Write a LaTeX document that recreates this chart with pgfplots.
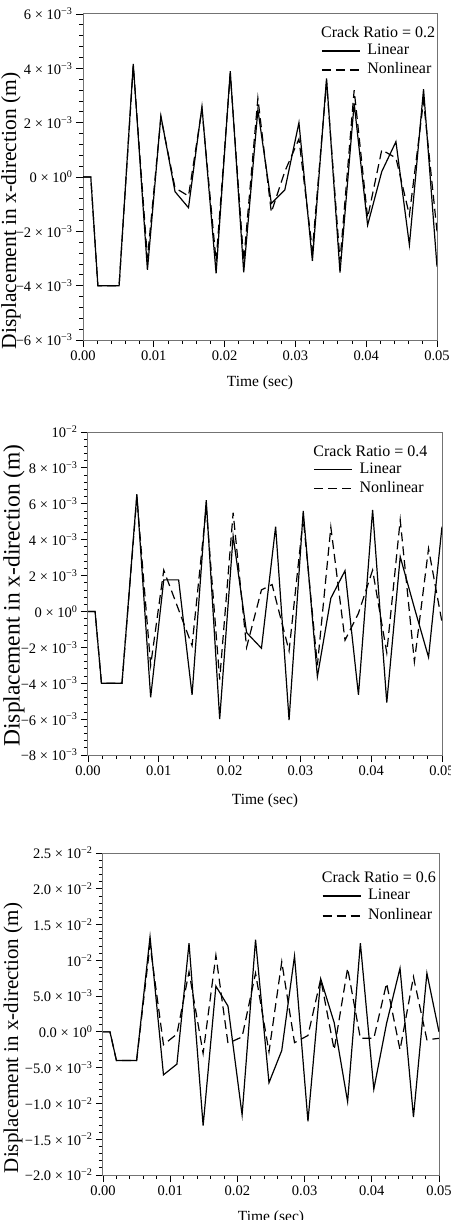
\documentclass[border=0pt]{standalone}
\usepackage{fontspec}
\setmainfont{Liberation Serif}
\usepackage{pgfplots}
\pgfplotsset{compat=1.18}
\newcommand{\tf}{\fontsize{14.5}{16}\selectfont}
\newcommand{\lf}{\fontsize{16}{18}\selectfont}
\newcommand{\m}{−}
\pgfplotsset{
  panel/.style={
    scale only axis, anchor=north west,
    xmin=0, xmax=0.05,
    scaled x ticks=false, scaled y ticks=false,
    axis line style={black!55, line width=1pt},
    tick style={black, line width=0.8pt},
    major tick length=7pt, minor tick length=4pt,
    tick align=outside, xtick pos=bottom, ytick pos=left,
    minor tick num=4,
    xtick={0,0.01,0.02,0.03,0.04,0.05},
    xticklabels={0.00,0.01,0.02,0.03,0.04,0.05},
    ticklabel style={font=\tf},
    xlabel={Time (sec)},
    ylabel={Displacement in x-direction (m)},
    xlabel style={font=\fontsize{15.5}{17}\selectfont, at={(axis description cs:0.5,0)}, anchor=center},
    ylabel style={at={(axis description cs:0,0.5)}, anchor=center},
    legend cell align=left,
    legend image code/.code={\draw[#1] (0pt,0pt) -- (38pt,0pt);},
    legend style={draw=none, fill=none, anchor=north west, font=\lf,
      inner sep=0pt, column sep=7pt, row sep=4.5pt,
      nodes={inner sep=0pt, text height=11pt, text depth=3.5pt}},
  },
  lin/.style={black, line width=1.2pt},
  nl/.style={black, line width=1.2pt, dash pattern=on 9pt off 5pt},
}
\begin{document}
\begin{tikzpicture}
% ---------------- Panel 1 ----------------
\begin{axis}[panel, at={(83pt,-14pt)}, width=354pt, height=326pt,
  ymin=-0.006, ymax=0.006,
  ytick={-0.006,-0.004,-0.002,0,0.002,0.004,0.006},
  yticklabels={\m6 × 10\textsuperscript{\m3},\m4 × 10\textsuperscript{\m3},\m2 × 10\textsuperscript{\m3},0 × 10\textsuperscript{0},2 × 10\textsuperscript{\m3},4 × 10\textsuperscript{\m3},6 × 10\textsuperscript{\m3}},
  xlabel style={yshift=-43pt},
  ylabel style={font=\fontsize{21.5}{23}\selectfont, yshift=72pt, xshift=-34pt},
  legend style={at={(rel axis cs:0.6723,0.9095)}},
]
\addplot[lin] coordinates {(0,0) (0.0011,0) (0.0021,-0.0040) (0.0051,-0.0040) (0.0071,0.00416) (0.0091,-0.00342) (0.0110,0.00225) (0.0130,-0.00054) (0.0149,-0.00113) (0.0168,0.00259) (0.0188,-0.00355) (0.0208,0.0039) (0.0227,-0.00351) (0.0247,0.00247) (0.0266,-0.00097) (0.0285,-0.00048) (0.0305,0.0020) (0.0324,-0.00309) (0.0344,0.00363) (0.0363,-0.00352) (0.0383,0.00271) (0.0402,-0.00177) (0.0422,0.0002) (0.0442,0.0013) (0.0461,-0.0025) (0.0481,0.00323) (0.0500,-0.0033)};
\addlegendentry{Linear}
\addplot[nl] coordinates {(0,0) (0.0011,0) (0.0021,-0.0040) (0.0051,-0.0040) (0.0071,0.0041) (0.0091,-0.0030) (0.0110,0.0022) (0.0130,-0.0004) (0.0149,-0.0007) (0.0168,0.0025) (0.0188,-0.0031) (0.0208,0.0038) (0.0227,-0.0031) (0.0247,0.0029) (0.0266,-0.0013) (0.0285,0.0002) (0.0305,0.0014) (0.0324,-0.0027) (0.0344,0.0035) (0.0363,-0.0031) (0.0383,0.0032) (0.0402,-0.0015) (0.0422,0.0010) (0.0442,0.0007) (0.0461,-0.0014) (0.0481,0.0028) (0.0500,-0.0020)};
\addlegendentry{Nonlinear}
\node[anchor=west, inner sep=0pt, font=\lf] at (rel axis cs:0.6723,0.9457) {Crack Ratio = 0.2};
\end{axis}
% ---------------- Panel 2 ----------------
\begin{axis}[panel, at={(88pt,-432pt)}, width=354pt, height=323pt,
  ymin=-0.008, ymax=0.010,
  ytick={-0.008,-0.006,-0.004,-0.002,0,0.002,0.004,0.006,0.008,0.010},
  yticklabels={\m8 × 10\textsuperscript{\m3},\m6 × 10\textsuperscript{\m3},\m4 × 10\textsuperscript{\m3},\m2 × 10\textsuperscript{\m3},0 × 10\textsuperscript{0},2 × 10\textsuperscript{\m3},4 × 10\textsuperscript{\m3},6 × 10\textsuperscript{\m3},8 × 10\textsuperscript{\m3},10\textsuperscript{\m2}},
  xlabel style={yshift=-46pt},
  ylabel style={font=\fontsize{23.5}{25}\selectfont, yshift=74pt, xshift=-2pt},
  legend style={at={(rel axis cs:0.6364,0.9071)}},
]
\addplot[lin] coordinates {(0,0) (0.0010,0) (0.0019,-0.0040) (0.0048,-0.0040) (0.0069,0.00653) (0.00885,-0.00478) (0.0107,0.00176) (0.0128,0.00176) (0.0147,-0.00465) (0.0167,0.0062) (0.0186,-0.0060) (0.0205,0.0042) (0.0224,-0.00118) (0.0245,-0.00205) (0.0265,0.00473) (0.0284,-0.00605) (0.0304,0.0056) (0.0324,-0.00363) (0.0343,0.00074) (0.0363,0.00227) (0.0382,-0.00465) (0.0402,0.00566) (0.0422,-0.00508) (0.0441,0.00305) (0.0461,0.0002) (0.0481,-0.00255) (0.0500,0.00473)};
\addlegendentry{Linear}
\addplot[nl] coordinates {(0,0) (0.0010,0) (0.0019,-0.0040) (0.0048,-0.0040) (0.0069,0.0064) (0.00885,-0.0030) (0.0107,0.0023) (0.0147,-0.0019) (0.0167,0.0058) (0.0186,-0.0038) (0.0205,0.0055) (0.0224,-0.0020) (0.0245,0.0012) (0.0260,0.0015) (0.0284,-0.0022) (0.0304,0.0052) (0.0324,-0.0030) (0.0343,0.0047) (0.0363,-0.0016) (0.0382,-0.0001) (0.0402,0.0023) (0.0422,-0.0023) (0.0441,0.0051) (0.0461,-0.0028) (0.0481,0.0035) (0.0500,-0.0006)};
\addlegendentry{Nonlinear}
\node[anchor=west, inner sep=0pt, font=\lf] at (rel axis cs:0.6364,0.9421) {Crack Ratio = 0.4};
\end{axis}
% ---------------- Panel 3 ----------------
\begin{axis}[panel, at={(103pt,-853pt)}, width=336pt, height=322pt,
  ymin=-0.020, ymax=0.025,
  ytick={-0.020,-0.015,-0.010,-0.005,0,0.005,0.010,0.015,0.020,0.025},
  yticklabels={\m2.0 × 10\textsuperscript{\m2},\m1.5 × 10\textsuperscript{\m2},\m1.0 × 10\textsuperscript{\m2},\m5.0 × 10\textsuperscript{\m3},0.0 × 10\textsuperscript{0},5.0 × 10\textsuperscript{\m3},10\textsuperscript{\m2},1.5 × 10\textsuperscript{\m2},2.0 × 10\textsuperscript{\m2},2.5 × 10\textsuperscript{\m2}},
  xlabel style={yshift=-43pt},
  ylabel style={font=\fontsize{21}{23}\selectfont, yshift=90pt, xshift=-24pt},
  legend style={at={(rel axis cs:0.6509,0.8898)}, row sep=5.5pt},
]
\addplot[lin] coordinates {(0,0) (0.00104,0) (0.0020,-0.0040) (0.0050,-0.0040) (0.0070,0.0133) (0.0090,-0.0060) (0.0110,-0.0045) (0.0128,0.0124) (0.0149,-0.0131) (0.0168,0.0064) (0.0186,0.0036) (0.0207,-0.0116) (0.0227,0.0129) (0.0247,-0.0071) (0.0266,-0.0026) (0.0285,0.0106) (0.0305,-0.0125) (0.0324,0.0074) (0.0344,0.0013) (0.0364,-0.00975) (0.0383,0.0124) (0.0403,-0.0080) (0.0422,0.0012) (0.0442,0.0089) (0.0462,-0.0119) (0.0482,0.0082) (0.0500,0.0)};
\addlegendentry{Linear}
\addplot[nl] coordinates {(0,0) (0.00104,0) (0.0020,-0.0040) (0.0050,-0.0040) (0.0070,0.0122) (0.0090,-0.0018) (0.0110,-0.0003) (0.0128,0.0084) (0.0149,-0.0030) (0.0168,0.0107) (0.0186,-0.0016) (0.0207,-0.0007) (0.0227,0.0082) (0.0247,-0.0028) (0.0266,0.0098) (0.0285,-0.0015) (0.0305,-0.0005) (0.0324,0.0074) (0.0344,-0.0025) (0.0364,0.0089) (0.0383,-0.0009) (0.0403,-0.0009) (0.0422,0.0068) (0.0442,-0.0025) (0.0462,0.0077) (0.0482,-0.0011) (0.0500,-0.0009)};
\addlegendentry{Nonlinear}
\node[anchor=west, inner sep=0pt, font=\lf] at (rel axis cs:0.6509,0.9245) {Crack Ratio = 0.6};
\end{axis}
\pgfresetboundingbox
\path (0pt,0pt) rectangle (450pt,-1220pt);
\end{tikzpicture}
\end{document}
